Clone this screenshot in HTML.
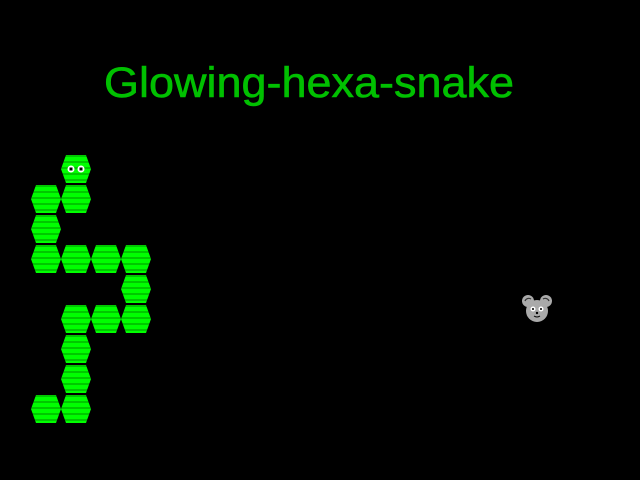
<!DOCTYPE html>
<html><head><meta charset="utf-8"><style>
html,body{margin:0;padding:0;background:#000;width:640px;height:480px;overflow:hidden}
svg{display:block}
</style></head><body>
<svg id="scene" width="640" height="480" viewBox="0 0 640 480">
<defs>
<pattern id="stripes" patternUnits="userSpaceOnUse" width="30" height="6" y="1">
<rect width="30" height="6" fill="#00ff00"/>
<rect y="4" width="30" height="2" fill="#00c800"/>
</pattern>
</defs>
<rect width="640" height="480" fill="#000"/>
<text x="309" y="97" text-anchor="middle" font-family="Liberation Sans, sans-serif" font-size="43" fill="#00c000" stroke="#00c000" stroke-width="0.6" textLength="410" lengthAdjust="spacingAndGlyphs">Glowing-hexa-snake</text>
<g id="snake"></g>
<g transform="translate(537,309)">
<circle cx="-9" cy="-8" r="6" fill="#aaa"/>
<circle cx="9" cy="-8" r="6" fill="#aaa"/>
<path d="M-12,-8 a4,4 0 0 1 6,-2" stroke="#333" stroke-width="1.2" fill="none"/>
<path d="M6,-10 a4,4 0 0 1 6,2" stroke="#333" stroke-width="1.2" fill="none"/>
<circle cx="0" cy="2" r="11" fill="#aaa"/>
<circle cx="-4" cy="0" r="2.5" fill="#fff"/>
<circle cx="4" cy="0" r="2.5" fill="#fff"/>
<circle cx="-4" cy="0" r="1" fill="#000"/>
<circle cx="4" cy="0" r="1" fill="#000"/>
<circle cx="0" cy="4" r="1.2" fill="#000"/>
<path d="M-3,7 q3,2 6,0" stroke="#000" stroke-width="1" fill="none"/>
</g>
</svg>
<script>
const segCols=[1,0,1,0,0,1,2,3,3,1,2,3,1,1,0,1];
const segRows=[0,1,1,2,3,3,3,3,4,5,5,5,6,7,8,8];
const ns='http://www.w3.org/2000/svg';
const g=document.getElementById('snake');
function cx(c){return 46+c*30;}
function cy(r){return 169+r*30;}
for(let i=0;i<segCols.length;i++){
  const x=cx(segCols[i]),y=cy(segRows[i]);
  const p=document.createElementNS(ns,'polygon');
  p.setAttribute('points',[[x-15,y],[x-10,y-14],[x+10,y-14],[x+15,y],[x+10,y+14],[x-10,y+14]].map(a=>a.join(',')).join(' '));
  p.setAttribute('fill','url(#stripes)');
  
  
  g.appendChild(p);
  if(i===0){
    [-5,5].forEach(dx=>{
      const e=document.createElementNS(ns,'circle');
      e.setAttribute('cx',x+dx);e.setAttribute('cy',y);e.setAttribute('r',3.5);e.setAttribute('fill','#fff');
      
      
      g.appendChild(e);
      const q=document.createElementNS(ns,'rect');
      q.setAttribute('x',x+dx-1.5);q.setAttribute('y',y-1.5);q.setAttribute('width',3);q.setAttribute('height',3);q.setAttribute('fill','#000');
      
      
      g.appendChild(q);
    });
  }
}
</script>
</body></html>
